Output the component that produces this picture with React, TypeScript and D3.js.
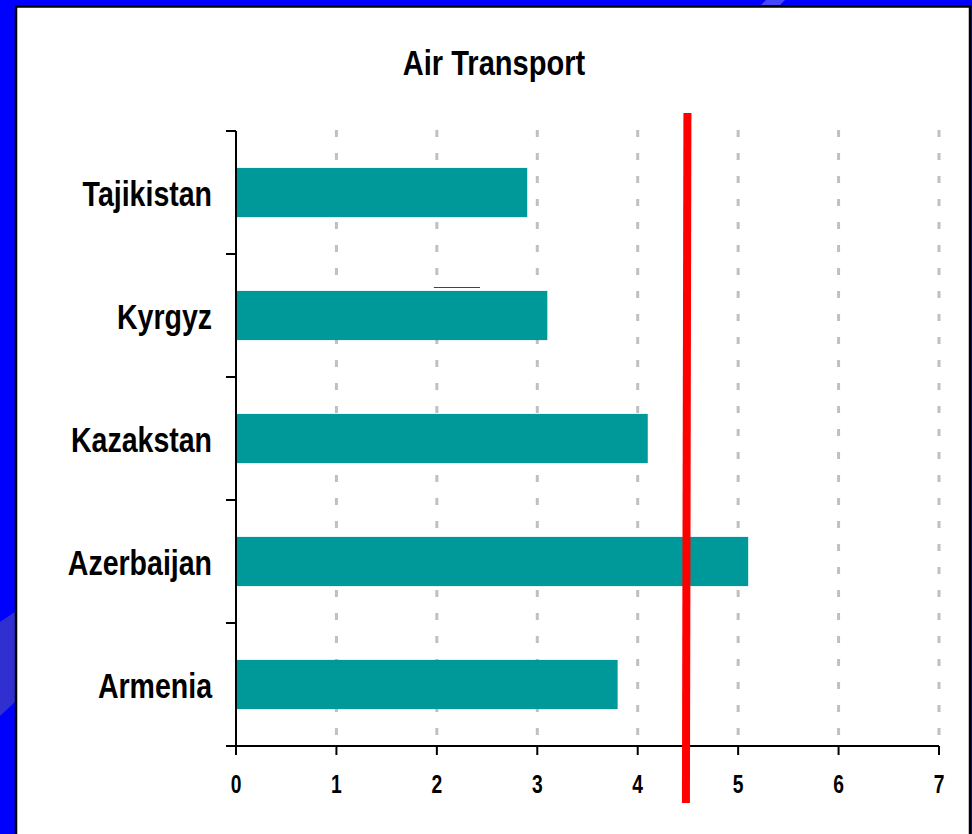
import { useEffect, useRef } from 'react';
import * as d3 from 'd3';

const countries = ['Tajikistan', 'Kyrgyz', 'Kazakstan', 'Azerbaijan', 'Armenia'];
const airValues = [2.9, 3.1, 4.1, 5.1, 3.8];
const xTicks = [0, 1, 2, 3, 4, 5, 6, 7];
const referenceValue = 4.48;
const chartTitle = 'Air Transport';

export default function App() {
  const svgRef = useRef<SVGSVGElement | null>(null);

  useEffect(() => {
    const svg = svgRef.current;
    if (!svg) return;

    const width = 972;
    const height = 834;
    const plot = { left: 236, right: 939, top: 131, bottom: 746 };
    const font = '"Liberation Sans", Arial, sans-serif';

    const x = d3.scaleLinear().domain([0, 7]).range([plot.left, plot.right]);
    const y = d3
      .scaleBand<string>()
      .domain(countries)
      .range([plot.top, plot.bottom])
      .paddingInner(0.6)
      .paddingOuter(0.3);

    const root = d3.select(svg);
    root.attr('viewBox', `0 0 ${width} ${height}`);
    root.selectAll('*').remove();

    // blue slide background + white panel
    root.append('rect').attr('width', width).attr('height', height).attr('fill', '#0000ff');
    root
      .append('polygon')
      .attr('points', '0,622 15,612 15,702 0,716')
      .attr('fill', '#3030d0');
    root
      .append('polygon')
      .attr('points', '766,0 785,0 780,5 761,5')
      .attr('fill', '#4646ff');
    root
      .append('rect')
      .attr('x', 16)
      .attr('y', 6.5)
      .attr('width', 954)
      .attr('height', height)
      .attr('fill', '#ffffff')
      .attr('stroke', '#000')
      .attr('stroke-width', 2.5);

    // dashed vertical gridlines
    root
      .append('g')
      .selectAll('line')
      .data(xTicks.filter((d) => d > 0))
      .join('line')
      .attr('x1', (d) => x(d))
      .attr('x2', (d) => x(d))
      .attr('y1', plot.top - 1)
      .attr('y2', plot.bottom)
      .attr('stroke', '#c0c0c0')
      .attr('stroke-width', 3)
      .attr('stroke-dasharray', '7,16');

    // bars
    root
      .append('g')
      .selectAll('rect')
      .data(countries)
      .join('rect')
      .attr('x', x(0))
      .attr('y', (d) => y(d)!)
      .attr('width', (_, i) => x(airValues[i]) - x(0))
      .attr('height', y.bandwidth())
      .attr('fill', '#009999');

    // stray underline
    root
      .append('line')
      .attr('x1', x(1.97))
      .attr('x2', x(2.43))
      .attr('y1', 287.5)
      .attr('y2', 287.5)
      .attr('stroke', '#3333cc')
      .attr('stroke-width', 1);

    // axes
    const axis = root.append('g').attr('stroke', '#000').attr('stroke-width', 2);
    axis
      .append('line')
      .attr('x1', plot.left)
      .attr('x2', plot.left)
      .attr('y1', plot.top)
      .attr('y2', plot.bottom);
    axis
      .append('line')
      .attr('x1', plot.left - 10)
      .attr('x2', x(7))
      .attr('y1', plot.bottom)
      .attr('y2', plot.bottom);
    const bandEdges = countries.map((c) => y(c)! - (y.step() * y.paddingInner()) / 2);
    axis
      .selectAll('line.ytick')
      .data(bandEdges)
      .join('line')
      .attr('class', 'ytick')
      .attr('x1', plot.left - 10)
      .attr('x2', plot.left)
      .attr('y1', (d) => d)
      .attr('y2', (d) => d);
    axis
      .selectAll('line.xtick')
      .data(xTicks)
      .join('line')
      .attr('class', 'xtick')
      .attr('x1', (d) => x(d))
      .attr('x2', (d) => x(d))
      .attr('y1', plot.bottom)
      .attr('y2', plot.bottom + 9);

    // x tick labels
    root
      .append('g')
      .selectAll('text')
      .data(xTicks)
      .join('text')
      .attr('transform', (d) => `translate(${x(d)},792.5) scale(0.77,1)`)
      .attr('text-anchor', 'middle')
      .attr('font-family', font)
      .attr('font-weight', 'bold')
      .attr('font-size', 25)
      .attr('fill', '#000')
      .text((d) => d);

    // category labels
    root
      .append('g')
      .selectAll('text')
      .data(countries)
      .join('text')
      .attr('transform', (d) => `translate(212,${y(d)! + y.bandwidth() / 2 + 13.5}) scale(0.815,1)`)
      .attr('text-anchor', 'end')
      .attr('font-family', font)
      .attr('font-weight', 'bold')
      .attr('font-size', 35)
      .attr('fill', '#000')
      .text((d) => d);

    // reference line
    root
      .append('line')
      .attr('x1', x(referenceValue) + 1.5)
      .attr('x2', x(referenceValue))
      .attr('y1', 113)
      .attr('y2', 803)
      .attr('stroke', '#ff0000')
      .attr('stroke-width', 8);

    // title
    root
      .append('text')
      .attr('transform', `translate(494,74.5) scale(0.83,1)`)
      .attr('text-anchor', 'middle')
      .attr('font-family', font)
      .attr('font-weight', 'bold')
      .attr('font-size', 35)
      .attr('fill', '#000')
      .text(chartTitle);
  }, []);

  return (
    <svg
      ref={svgRef}
      width={972}
      height={834}
      style={{ position: 'absolute', left: 0, top: 0, display: 'block' }}
    />
  );
}
